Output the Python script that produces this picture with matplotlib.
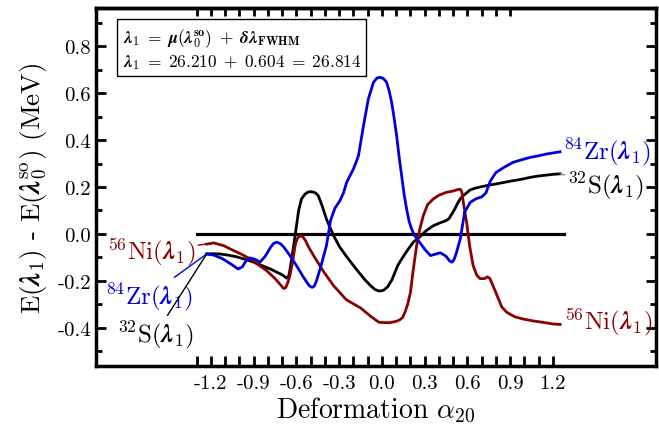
import matplotlib
matplotlib.use('Agg')
import matplotlib.pyplot as plt
from matplotlib.ticker import MultipleLocator

plt.rcParams['font.family'] = 'cmr10'
plt.rcParams['mathtext.fontset'] = 'cm'
plt.rcParams['axes.formatter.use_mathtext'] = True

# 32S
s_x = [-1.23, -1.20, -1.14, -1.08, -1.02, -0.96, -0.90, -0.84, -0.78, -0.72, -0.69, -0.67,
       -0.655, -0.645, -0.634, -0.62, -0.60, -0.585, -0.565, -0.54, -0.52, -0.505, -0.485,
       -0.465, -0.447, -0.42, -0.39, -0.34, -0.295, -0.25, -0.18, -0.12, -0.08, -0.05, -0.02,
       0.01, 0.04, 0.07, 0.11, 0.14, 0.18, 0.22, 0.26, 0.31, 0.36, 0.41, 0.45, 0.47, 0.49,
       0.51, 0.53, 0.55, 0.57, 0.60, 0.62, 0.66, 0.69, 0.75, 0.80, 0.86, 0.92, 0.98, 1.04,
       1.10, 1.16, 1.20, 1.25]
s_y = [-0.085, -0.084, -0.085, -0.090, -0.097, -0.108, -0.120, -0.135, -0.150, -0.168, -0.178,
       -0.188, -0.180, -0.150, -0.106, -0.050, 0.035, 0.100, 0.149, 0.170, 0.178, 0.180, 0.179,
       0.174, 0.163, 0.120, 0.064, -0.007, -0.057, -0.095, -0.150, -0.195, -0.220, -0.236,
       -0.243, -0.240, -0.225, -0.195, -0.135, -0.105, -0.068, -0.035, -0.015, 0.014, 0.035,
       0.048, 0.057, 0.065, 0.085, 0.105, 0.130, 0.150, 0.163, 0.178, 0.188, 0.196, 0.200,
       0.208, 0.213, 0.220, 0.227, 0.233, 0.241, 0.247, 0.251, 0.254, 0.256]

# 84Zr
z_x = [-1.23, -1.18, -1.12, -1.06, -1.01, -0.98, -0.955, -0.926, -0.89, -0.856, -0.82, -0.78,
       -0.76, -0.74, -0.715, -0.69, -0.646, -0.60, -0.55, -0.52, -0.505, -0.49, -0.475, -0.46,
       -0.43, -0.39, -0.36, -0.33, -0.295, -0.27, -0.248, -0.20, -0.165, -0.13, -0.096, -0.06,
       -0.035, -0.014, 0.01, 0.033, 0.05, 0.068, 0.085, 0.103, 0.12, 0.138, 0.155, 0.173,
       0.19, 0.208, 0.23, 0.255, 0.30, 0.34, 0.38, 0.41, 0.45, 0.475, 0.49, 0.505, 0.52, 0.55,
       0.58, 0.62, 0.66, 0.70, 0.73, 0.76, 0.80, 0.86, 0.92, 0.98, 1.04, 1.10, 1.15, 1.20,
       1.25]
z_y = [-0.085, -0.090, -0.105, -0.128, -0.149, -0.140, -0.115, -0.102, -0.108, -0.120, -0.095,
       -0.055, -0.040, -0.035, -0.040, -0.055, -0.092, -0.135, -0.185, -0.212, -0.223, -0.227,
       -0.222, -0.200, -0.140, -0.050, 0.060, 0.110, 0.142, 0.175, 0.220, 0.277, 0.333, 0.460,
       0.574, 0.645, 0.664, 0.667, 0.662, 0.645, 0.610, 0.560, 0.495, 0.418, 0.330, 0.248,
       0.170, 0.106, 0.055, 0.021, -0.008, -0.028, -0.065, -0.092, -0.085, -0.080, -0.095,
       -0.115, -0.120, -0.110, -0.085, -0.020, 0.093, 0.135, 0.150, 0.158, 0.175, 0.225,
       0.262, 0.285, 0.305, 0.316, 0.326, 0.333, 0.340, 0.345, 0.350]

# 56Ni
n_x = [-1.23, -1.18, -1.11, -1.04, -0.98, -0.926, -0.87, -0.81, -0.75, -0.71, -0.69, -0.675,
       -0.66, -0.646, -0.625, -0.61, -0.595, -0.575, -0.555, -0.535, -0.52, -0.48, -0.41,
       -0.34, -0.25, -0.15, -0.08, -0.04, -0.02, 0.05, 0.10, 0.126, 0.145, 0.16, 0.18, 0.20,
       0.22, 0.243, 0.265, 0.29, 0.32, 0.36, 0.40, 0.45, 0.50, 0.536, 0.55, 0.56, 0.575, 0.594,
       0.615, 0.64, 0.665, 0.688, 0.72, 0.74, 0.758, 0.78, 0.80, 0.84, 0.875, 0.93, 0.99,
       1.06, 1.13, 1.20, 1.25]
n_y = [-0.043, -0.038, -0.050, -0.071, -0.088, -0.106, -0.130, -0.156, -0.190, -0.218, -0.232,
       -0.228, -0.205, -0.177, -0.110, -0.050, -0.020, -0.008, -0.012, -0.030, -0.050, -0.092,
       -0.160, -0.220, -0.280, -0.315, -0.350, -0.368, -0.376, -0.378, -0.372, -0.365, -0.355,
       -0.335, -0.300, -0.248, -0.150, -0.050, 0.020, 0.078, 0.125, 0.149, 0.165, 0.177,
       0.183, 0.190, 0.190, 0.180, 0.120, 0.050, -0.050, -0.135, -0.175, -0.190, -0.190,
       -0.182, -0.190, -0.222, -0.250, -0.310, -0.333, -0.352, -0.362, -0.370, -0.376, -0.383,
       -0.385]

x_major = [-1.2, -0.9, -0.6, -0.3, 0.0, 0.3, 0.6, 0.9, 1.2]
x_labels = ['-1.2', '-0.9', '-0.6', '-0.3', '0.0', '0.3', '0.6', '0.9', '1.2']
y_major = [-0.4, -0.2, 0.0, 0.2, 0.4, 0.6, 0.8]
y_labels = ['-0.4', '-0.2', '0.0', '0.2', '0.4', '0.6', '0.8']

blue = '#0000dd'
red = '#8b0000'
lam = r'\mathbfit{\lambda}'

fig = plt.figure(figsize=(6.59, 4.27), dpi=100)
ax = fig.add_axes([0.1457, 0.1405, 0.8497, 0.8384])

ax.plot([-1.3, 1.28], [0, 0], color='black', lw=2.3)
ax.plot(s_x, s_y, color='black', lw=2.0)
ax.plot(n_x, n_y, color=red, lw=2.0)
ax.plot(z_x, z_y, color=blue, lw=2.0)

ax.set_xlim(-2.007, 1.923)
ax.set_ylim(-0.562, 0.962)

for sp in ax.spines.values():
    sp.set_linewidth(2.5)

ax.set_xticks(x_major)
ax.set_xticklabels(x_labels)
ax.set_xticks([round(-1.3 + 0.1 * i, 1) for i in range(26)], minor=True)
ax.set_yticks(y_major)
ax.set_yticklabels(y_labels)
ax.yaxis.set_minor_locator(MultipleLocator(0.1))
ax.tick_params(axis='both', which='both', direction='in', labelsize=15, width=2)
ax.tick_params(axis='x', which='major', length=7, pad=6)
ax.tick_params(axis='x', which='minor', length=7)
ax.tick_params(axis='y', which='major', length=7, right=True)
ax.tick_params(axis='y', which='minor', length=4, right=True)

top = ax.secondary_xaxis('top')
top.set_xticks([round(-1.3 + 0.1 * i, 1) for i in range(23)])
top.tick_params(direction='in', length=6, width=2, labeltop=False)
top.spines['top'].set_linewidth(2.5)

ax.set_xlabel(r'Deformation $\alpha_{20}$', fontsize=20, labelpad=2)
ax.set_ylabel(r'E($' + lam + r'_1$) - E($' + lam + r'_0^{\rm so}$) (MeV)',
              fontsize=19.5, labelpad=6)

ax.text(-1.82, 0.885,
        r'$\mathbfit{\lambda}_\mathbf{1}\;=\;\mathbfit{\mu}(\mathbfit{\lambda}_\mathbf{0}^\mathbf{so})'
        r'\;+\;\mathbfit{\delta\lambda}_\mathbf{FWHM}$' + '\n'
        r'$\mathbfit{\lambda}_\mathbf{1}\;=\;\mathbf{26.210}\;+\;\mathbf{0.604}\;=\;\mathbf{26.814}$',
        fontsize=12.5, va='top', ha='left', linespacing=1.25,
        bbox=dict(boxstyle='square,pad=0.3', fc='white', ec='black', lw=1.0))

lbl = 18
# right-hand labels
ax.annotate(r'$^{84}$Zr($' + lam + r'_1$)', xy=(1.25, 0.350), xytext=(1.27, 0.353),
            color=blue, fontsize=lbl, va='center', ha='left',
            arrowprops=dict(arrowstyle='-', color=blue, lw=1.0, shrinkA=0, shrinkB=0))
ax.annotate(r'$^{32}$S($' + lam + r'_1$)', xy=(1.25, 0.256), xytext=(1.30, 0.21),
            color='black', fontsize=lbl, va='center', ha='left',
            arrowprops=dict(arrowstyle='-', color='gray', lw=1.0, shrinkA=0, shrinkB=0))
ax.annotate(r'$^{56}$Ni($' + lam + r'_1$)', xy=(1.25, -0.385), xytext=(1.275, -0.37),
            color=red, fontsize=lbl, va='center', ha='left',
            arrowprops=dict(arrowstyle='-', color=red, lw=1.0, shrinkA=0, shrinkB=0))

# left-hand labels
ax.annotate(r'$^{56}$Ni($' + lam + r'_1$)', xy=(-1.23, -0.043), xytext=(-1.31, -0.072),
            color=red, fontsize=lbl, va='center', ha='right',
            arrowprops=dict(arrowstyle='-', color=red, lw=1.0, shrinkA=0, shrinkB=0))
ax.annotate(r'$^{84}$Zr($' + lam + r'_1$)', xy=(-1.23, -0.085), xytext=(-1.33, -0.264),
            color=blue, fontsize=lbl, va='center', ha='right',
            arrowprops=dict(arrowstyle='-', color=blue, lw=1.0, shrinkA=0, shrinkB=0))
ax.annotate(r'$^{32}$S($' + lam + r'_1$)', xy=(-1.23, -0.085), xytext=(-1.32, -0.426),
            color='black', fontsize=lbl, va='center', ha='right',
            arrowprops=dict(arrowstyle='-', color='black', lw=1.0, shrinkA=0, shrinkB=0))

fig.savefig('out.png', dpi=100)
